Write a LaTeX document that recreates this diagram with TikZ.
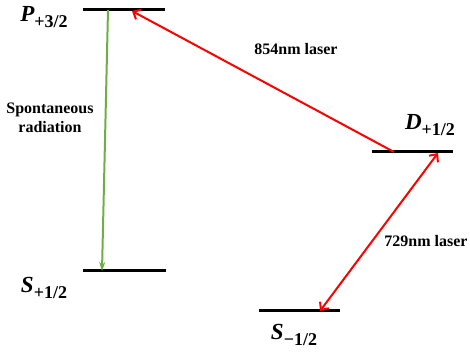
\documentclass[tikz,border=0pt]{standalone}
\usepackage{fontspec}
\setmainfont{Liberation Serif}
\usepackage{xcolor}
\usetikzlibrary{arrows.meta}
\usetikzlibrary{math}
\definecolor{mygreen}{RGB}{112,173,71}
\newcommand{\lvl}[2]{{\fontsize{23}{26}\selectfont\bfseries\itshape #1}\raisebox{-0.4em}{\fontsize{18}{20}\selectfont\bfseries #2}}

\begin{document}
\begin{tikzpicture}[x=1pt,y=1pt,font=\fontsize{16}{19}\selectfont\bfseries]
\tikzmath{
\yP=348;
\yS=87;
\yD=206;
\ySm=47;
\lw=3;
}
\useasboundingbox (0,0) rectangle (470,358);
%levels
\draw[line width=\lw] (83,\yP) coordinate (Pl) -- (165,\yP) coordinate (Pr);
\draw[line width=\lw] (83,\yS) coordinate (Sl) -- (166,\yS) coordinate (Sr);
\draw[line width=\lw] (372,\yD) coordinate (Dl) -- (453,\yD) coordinate (Dr);
\draw[line width=\lw] (259,\ySm) coordinate (Sml) -- (340,\ySm) coordinate (Smr);
%level names
\node (P) at (44,341) {\lvl{P}{+3/2}};
\node (S) at (44,70) {\lvl{S}{+1/2}};
\node (D) at (430,233) {\lvl{D}{+1/2}};
\node (Sm) at (294,23) {\lvl{S}{−1/2}};

%decay
\coordinate (Pg) at (108,\yP);
\coordinate (Sg) at (102,\yS);
\draw[-{Stealth[length=9pt,width=6pt]}, mygreen, line width=2] (Pg) -- (Sg);
\node[align=center] (spont) at (50,240) {Spontaneous\\radiation};

%lasers
\coordinate (Dg) at (394,\yD);
\coordinate (Pa) at (132,\yP-1);
\draw[-{Straight Barb[length=6pt,width=11pt]}, red, line width=2] (Dg) -- (Pa);
\node (l854) at (296,309) {854nm laser};

\coordinate (Da) at (438,\yD-1);
\coordinate (Sma) at (320,\ySm);
\draw[{Straight Barb[length=6pt,width=11pt]}-{Straight Barb[length=6pt,width=11pt]}, red, line width=2] (Sma) -- (Da);
\node (l729) at (426,117) {729nm laser};
\end{tikzpicture}
\end{document}
